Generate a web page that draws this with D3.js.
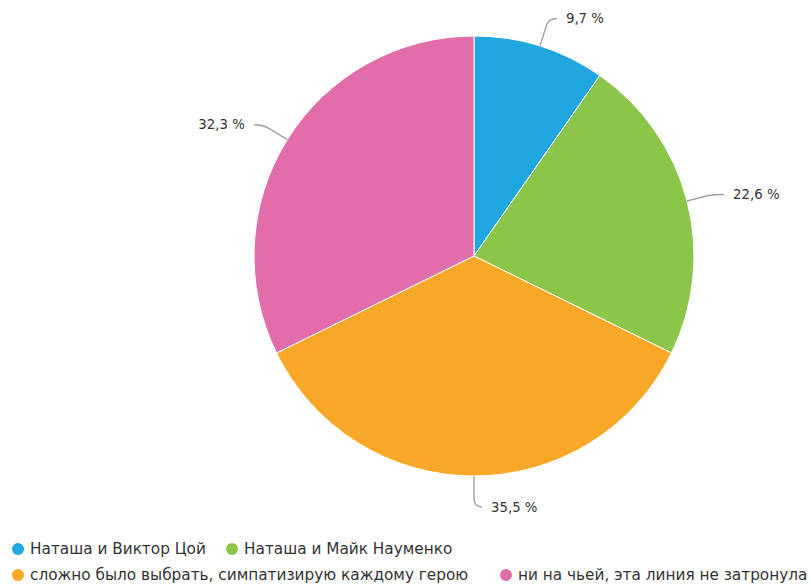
<!DOCTYPE html>
<html>
<head>
<meta charset="utf-8">
<script src="https://cdn.jsdelivr.net/npm/d3@7"></script>
<style>
  html, body { margin: 0; padding: 0; background: #fff; }
  svg { display: block; }
</style>
</head>
<body>
<svg id="chart" width="811" height="586"></svg>
<script>
// Answer categories and their shares (percent)
const categories = [
  "Наташа и Виктор Цой",
  "Наташа и Майк Науменко",
  "сложно было выбрать, симпатизирую каждому герою",
  "ни на чьей, эта линия не затронула"
];
const shares = [9.7, 22.6, 35.5, 32.3];
const shareLabels = ["9,7 %", "22,6 %", "35,5 %", "32,3 %"];
const colors = ["#21a7e0", "#8bc54a", "#f9a727", "#e36daa"];

const svg = d3.select("#chart");
const cx = 474, cy = 256, R = 220;

const data = categories.map((c, i) => ({ name: c, value: shares[i], label: shareLabels[i], color: colors[i] }));

const pie = d3.pie().sort(null).value(d => d.value);
const arc = d3.arc().innerRadius(0).outerRadius(R);
const arcs = pie(data);

const g = svg.append("g").attr("transform", `translate(${cx},${cy})`);

g.selectAll("path.slice")
  .data(arcs)
  .join("path")
  .attr("class", "slice")
  .attr("d", arc)
  .attr("fill", d => d.data.color)
  .attr("stroke", "#fff")
  .attr("stroke-width", 1)
  .attr("stroke-linejoin", "round");

// Data labels with soft connectors
const labelFont = "'DejaVu Sans', sans-serif";
const pt = (a, r) => [Math.sin(a) * r, -Math.cos(a) * r];

arcs.forEach(d => {
  const a = (d.startAngle + d.endAngle) / 2;
  const right = Math.sin(a) >= -0.01;
  const touch = pt(a, R);
  const brk = pt(a, R + 22);
  const outer = pt(a, R + 30);
  const end = [outer[0] + (right ? 8 : -8), outer[1] + 1];
  g.append("path")
    .attr("d", `M${end[0]},${end[1]} Q${outer[0]},${outer[1] + 1} ${brk[0]},${brk[1]} L${touch[0]},${touch[1]}`)
    .attr("fill", "none")
    .attr("stroke", "#a0a0a0")
    .attr("stroke-width", 1.4);
  g.append("text")
    .attr("x", outer[0] + (right ? 17 : -17))
    .attr("y", outer[1] + 1)
    .attr("dy", "0.35em")
    .attr("text-anchor", right ? "start" : "end")
    .attr("font-family", labelFont)
    .attr("font-size", 13.3)
    .attr("fill", "#333")
    .text(d.data.label);
});

// Legend
const legendFont = "'DejaVu Sans', sans-serif";
const legendPos = [[18, 549], [232, 549], [18, 575], [506, 575]];
const lg = svg.append("g");
data.forEach((d, i) => {
  const [x, y] = legendPos[i];
  lg.append("circle").attr("cx", x).attr("cy", y).attr("r", 6).attr("fill", d.color);
  lg.append("text")
    .attr("x", x + 12)
    .attr("y", y)
    .attr("dy", "0.35em")
    .attr("font-family", legendFont)
    .attr("font-size", 15.3)
    .attr("fill", "#333")
    .text(d.name);
});
</script>
</body>
</html>
